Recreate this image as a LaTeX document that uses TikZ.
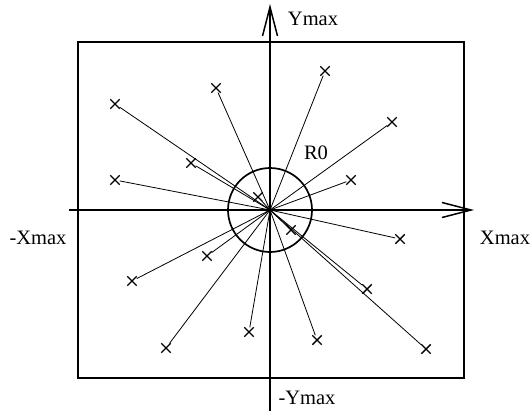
\documentclass[tikz,border=0pt]{standalone}
\usepackage{fontspec}
\setmainfont{Liberation Serif}
\usetikzlibrary{arrows.meta,shapes.misc}
\begin{document}
\begin{tikzpicture}[x=1pt,y=-1pt,
  frame/.style={line width=1.7pt},
  axis/.style={line width=1.5pt,-{Straight Barb[length=29pt,width=15pt,line width=1.5pt]}},
  ray/.style={line width=0.8pt},
  xmark/.style={cross out,draw,minimum size=8pt,inner sep=0pt,line width=1.4pt},
  lbl/.style={font=\fontsize{20.5}{20.5}\selectfont,inner sep=0pt}]
\useasboundingbox (0,0) rectangle (532,412);
\coordinate (O) at (270,210);
\coordinate (xl) at (69,210);
\coordinate (xr) at (474,210);
\coordinate (yb) at (270,411);
\coordinate (yt) at (270,4);
\draw[frame] (78,42) rectangle (464,378);
\draw[axis] (xl) -- (xr);
\draw[axis] (yb) -- (yt);
\draw[frame] (O) circle[radius=42];
\node[xmark] (m1) at (115,104) {};
\node[xmark] (m2) at (216,88) {};
\node[xmark] (m3) at (325,71) {};
\node[xmark] (m4) at (392,122) {};
\node[xmark] (m5) at (191,163) {};
\node[xmark] (m6) at (115,180) {};
\node[xmark] (m7) at (351,180) {};
\node[xmark] (m8) at (258,197) {};
\node[xmark] (m9) at (400,239) {};
\node[xmark] (m10) at (291,230) {};
\node[xmark] (m11) at (207,256) {};
\node[xmark] (m12) at (132,281) {};
\node[xmark] (m13) at (367,289) {};
\node[xmark] (m14) at (249,332) {};
\node[xmark] (m15) at (317,340) {};
\node[xmark] (m16) at (166,348) {};
\node[xmark] (m17) at (426,349) {};
\foreach \i in {1,...,17} {\draw[ray] (m\i) -- (O);}
\node[lbl] (ymax) at (313,19) {Ymax};
\node[lbl] (xmax) at (505,238) {Xmax};
\node[lbl] (nxmax) at (38,238) {-Xmax};
\node[lbl] (nymax) at (307,398) {-Ymax};
\node[lbl] (r0) at (316,153) {R0};
\end{tikzpicture}
\end{document}
